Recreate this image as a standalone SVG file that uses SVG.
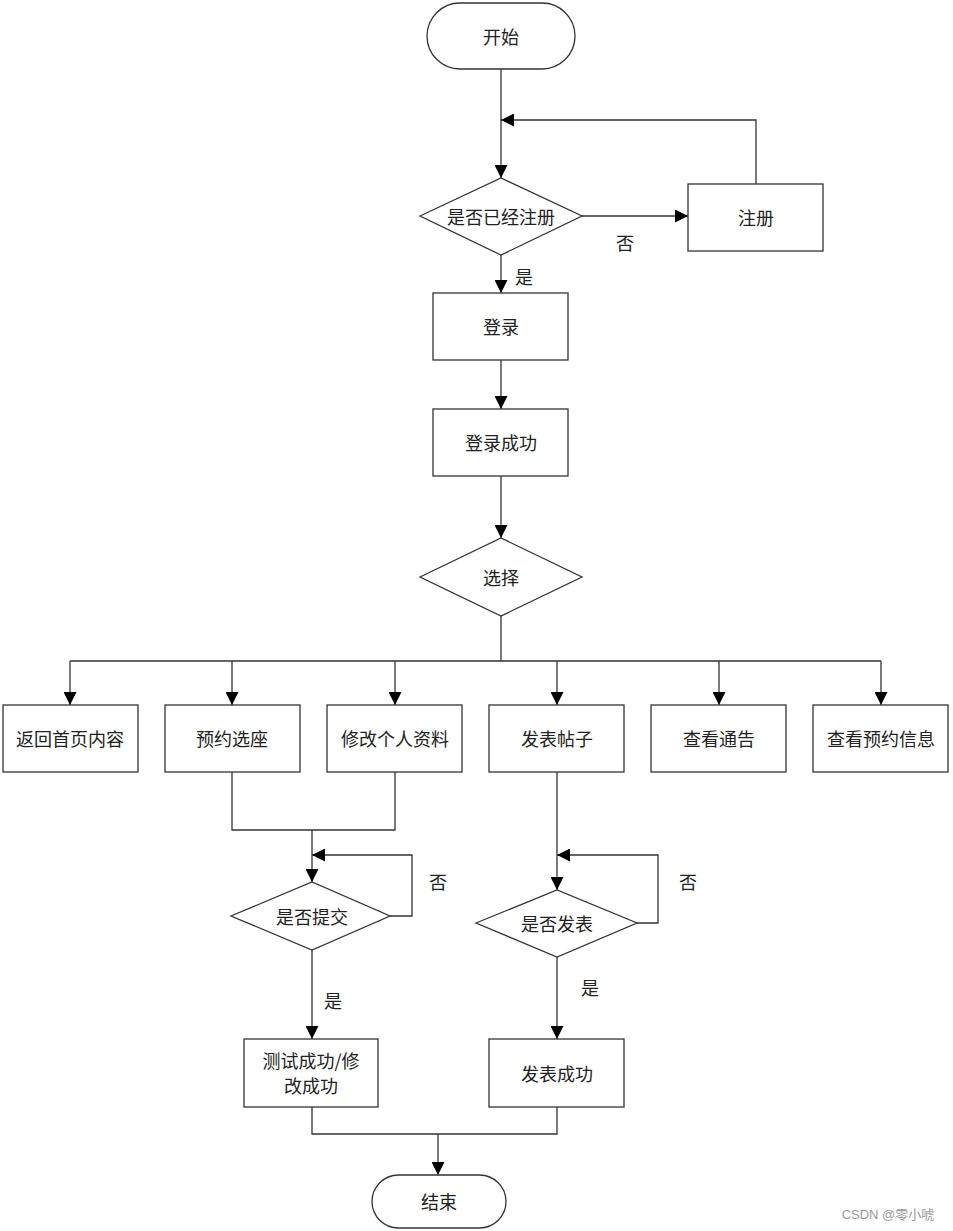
<svg xmlns="http://www.w3.org/2000/svg" width="953" height="1231" viewBox="0 0 953 1231">
<style>
.s{fill:#fff;stroke:#333;stroke-width:1.3}
.c{fill:none;stroke:#333;stroke-width:1.3}
text{font-family:"Noto Sans CJK SC","Liberation Serif",serif;font-size:18px;fill:#222;text-anchor:middle;dominant-baseline:central}
</style>
<defs><marker id="a" viewBox="0 0 10 10" refX="10" refY="5" markerWidth="13" markerHeight="13" markerUnits="userSpaceOnUse" orient="auto"><path d="M0,0L10,5L0,10z" fill="#000"/></marker></defs>
<rect width="953" height="1231" fill="#fff"/>
<g id="connectors">
<path class="c" d="M501,69V178" marker-end="url(#a)"/>
<path class="c" d="M582,216H688" marker-end="url(#a)"/>
<path class="c" d="M756,184V120H501" marker-end="url(#a)"/>
<path class="c" d="M501,255V293" marker-end="url(#a)"/>
<path class="c" d="M501,360V409" marker-end="url(#a)"/>
<path class="c" d="M501,476V538" marker-end="url(#a)"/>
<path class="c" d="M501,616V661M70,661H881"/>
<path class="c" d="M70,661V705" marker-end="url(#a)"/>
<path class="c" d="M232,661V705" marker-end="url(#a)"/>
<path class="c" d="M395,661V705" marker-end="url(#a)"/>
<path class="c" d="M557,661V705" marker-end="url(#a)"/>
<path class="c" d="M719,661V705" marker-end="url(#a)"/>
<path class="c" d="M881,661V705" marker-end="url(#a)"/>
<path class="c" d="M232,772V830H395V772M312,830V882" marker-end="url(#a)"/>
<path class="c" d="M390,916H412V855H312" marker-end="url(#a)"/>
<path class="c" d="M312,950V1039" marker-end="url(#a)"/>
<path class="c" d="M557,772V890" marker-end="url(#a)"/>
<path class="c" d="M637,923H658V855H557" marker-end="url(#a)"/>
<path class="c" d="M557,957V1039" marker-end="url(#a)"/>
<path class="c" d="M312,1107V1134H557V1107M438,1134V1175" marker-end="url(#a)"/>
</g>
<g id="start"><rect class="s" x="427" y="3" width="148" height="66" rx="33"/><text x="501" y="36">开始</text></g>
<g id="d1"><path class="s" d="M420,216L501,178L582,216L501,255z"/><text x="501" y="216">是否已经注册</text></g>
<g id="reg"><rect class="s" x="688" y="184" width="135" height="67"/><text x="756" y="217">注册</text></g>
<text x="625" y="242">否</text>
<text x="524" y="276">是</text>
<g id="login"><rect class="s" x="433" y="293" width="135" height="67"/><text x="501" y="326">登录</text></g>
<g id="ok"><rect class="s" x="433" y="409" width="135" height="67"/><text x="501" y="442">登录成功</text></g>
<g id="sel"><path class="s" d="M420,577L501,538L582,577L501,616z"/><text x="501" y="577">选择</text></g>
<g id="b1"><rect class="s" x="3" y="705" width="135" height="67"/><text x="70" y="738">返回首页内容</text></g>
<g id="b2"><rect class="s" x="165" y="705" width="135" height="67"/><text x="232" y="738">预约选座</text></g>
<g id="b3"><rect class="s" x="327" y="705" width="135" height="67"/><text x="395" y="738">修改个人资料</text></g>
<g id="b4"><rect class="s" x="489" y="705" width="135" height="67"/><text x="557" y="738">发表帖子</text></g>
<g id="b5"><rect class="s" x="651" y="705" width="135" height="67"/><text x="719" y="738">查看通告</text></g>
<g id="b6"><rect class="s" x="813" y="705" width="135" height="67"/><text x="881" y="738">查看预约信息</text></g>
<g id="d2"><path class="s" d="M231,916L312,882L390,916L312,950z"/><text x="312" y="916">是否提交</text></g>
<text x="438" y="881">否</text>
<text x="333" y="1000">是</text>
<g id="d3"><path class="s" d="M476,923L557,890L637,923L557,957z"/><text x="557" y="923">是否发表</text></g>
<text x="688" y="881">否</text>
<text x="590" y="987">是</text>
<g id="r1"><rect class="s" x="244" y="1039" width="134" height="68"/><text x="311" y="1060">测试成功/修</text><text x="311" y="1085">改成功</text></g>
<g id="r2"><rect class="s" x="489" y="1039" width="135" height="68"/><text x="557" y="1073">发表成功</text></g>
<g id="end"><rect class="s" x="372" y="1175" width="134" height="53" rx="26.5"/><text x="439" y="1201">结束</text></g>
<text x="888" y="1214" style="font-size:13px;fill:#999;font-family:'Liberation Sans','Noto Sans CJK SC',sans-serif">CSDN @零小唬</text>
</svg>
